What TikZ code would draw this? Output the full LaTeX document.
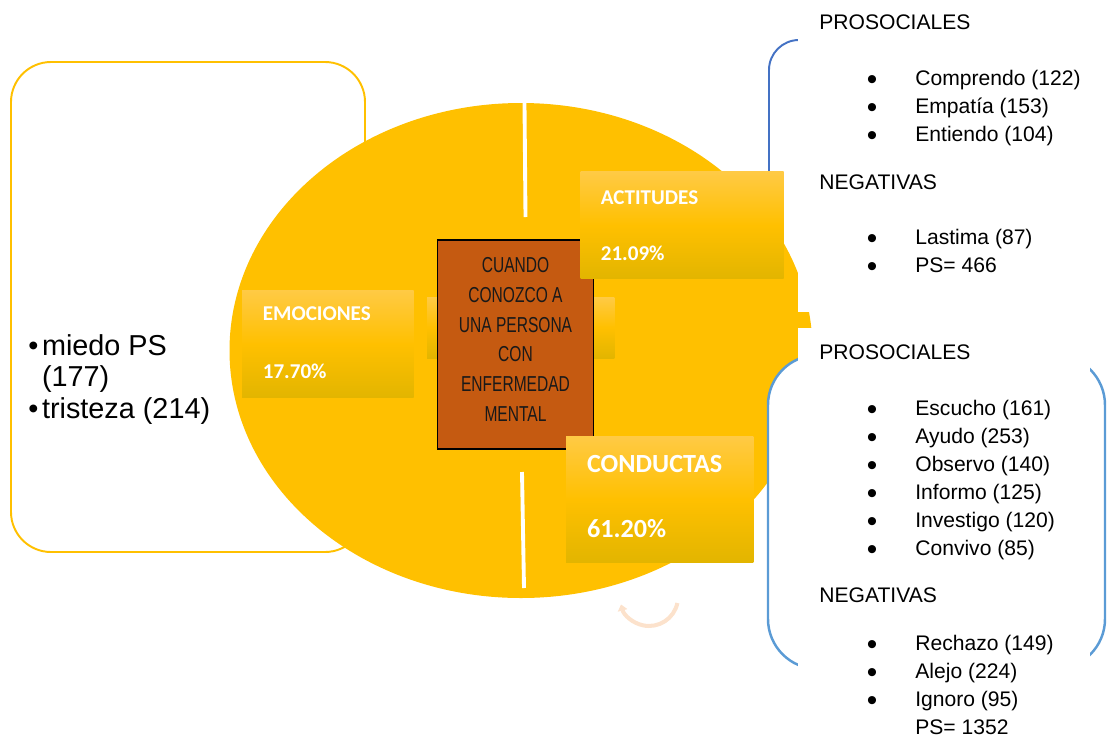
\documentclass[tikz,border=0pt]{standalone}
\usepackage{fontspec}
\setmainfont{Liberation Sans}
\newfontfamily\calfont{Carlito}
\newfontfamily\condfont[FakeStretch=0.72]{Liberation Sans}
\usetikzlibrary{arrows.meta}

\definecolor{oro}{HTML}{FFC000}
\definecolor{oroclaro}{HTML}{FFCA45}
\definecolor{orooscuro}{HTML}{E2B500}
\definecolor{naranja}{HTML}{C55A11}
\definecolor{azul}{HTML}{4472C4}
\definecolor{azulclaro}{HTML}{5B9BD5}
\definecolor{melocoton}{HTML}{FCE2CC}

\tikzset{
  categoria/.style={rectangle, inner sep=0pt, top color=oroclaro, bottom color=orooscuro, middle color=oro},
  titulo/.style={anchor=base west, inner sep=0pt, text=white, font=\calfont\bfseries\fontsize{12}{14}\selectfont},
  titulogrande/.style={titulo, font=\calfont\bfseries\fontsize{14.9}{17}\selectfont},
  encabezado/.style={anchor=base west, inner sep=0pt, font=\fontsize{12}{14}\selectfont},
  item/.style={encabezado},
  vineta/.style={anchor=base, inner sep=0pt, yshift=-0.08cm, font=\fontsize{17}{19}\selectfont},
  grande/.style={anchor=base west, inner sep=0pt, font=\fontsize{16.4}{19}\selectfont},
}

\begin{document}
\begin{tikzpicture}[x=0.02cm, y=-0.02cm]
\useasboundingbox (0,0) rectangle (1107,738);
% marco de emociones
\draw[oro, line width=1.1pt, rounded corners=0.8cm] (11,62) rectangle (365,552);
% corchete de actitudes
\draw[azul, line width=1.1pt, rounded corners=0.6cm] (769,40) rectangle (1000,300);
% circulo
\fill[oro] (521,350.5) ellipse [x radius=291.5, y radius=247.5];
\draw[white, line width=2.2pt] (524.5,103) -- (525.5,217);
\draw[white, line width=2.2pt] (522,472) -- (524,588);
% corchete de conductas
\draw[azulclaro, fill=white, line width=1.4pt, rounded corners=1cm] (768,355) rectangle (1105,669);
\fill[white] (798,0) rectangle (1107,312);
\fill[white] (798,328) rectangle (1090,738);
\draw[melocoton, line width=2.3pt, -{Triangle[length=3.5pt,width=5.5pt]}] (677.4,603) arc[start angle=12, end angle=165, radius=29];

% cajas
\node[categoria, minimum width=3.75cm, minimum height=1.22cm] (oculta) at (520.75,327.5) {};
\node[categoria, minimum width=3.434cm, minimum height=2.16cm] (emociones) at (327.85,344) {};
\node[fill=naranja, draw=black, line width=0.8pt, inner sep=0pt, minimum width=3.122cm, minimum height=4.18cm] (centro) at (515.45,344.5) {};
\node[font=\condfont\fontsize{12.3}{17}\selectfont, align=center, text=black!90, inner sep=0pt] (pregunta) at (515.5,339.4) {CUANDO\\CONOZCO A\\UNA PERSONA\\CON\\ENFERMEDAD\\MENTAL};
\node[categoria, minimum width=4.064cm, minimum height=2.146cm] (actitudes) at (682.1,225.35) {};
\node[categoria, minimum width=3.75cm, minimum height=2.534cm] (conductas) at (659.75,499.35) {};

\node[titulo] (emo) at (262.5,320.7) {EMOCIONES};
\node[titulo] (emopct) at (262.5,378) {17.70\%};
\node[titulo] (act) at (600.5,204) {ACTITUDES};
\node[titulo] (actpct) at (600.5,260.5) {21.09\%};
\node[titulogrande] (con) at (586.7,472.5) {CONDUCTAS};
\node[titulogrande] (conpct) at (586.7,537) {61.20\%};

% lista de emociones
\node[grande, anchor=base] (ve1) at (33.5,355) {•};
\node[grande] (miedo) at (41.7,355) {miedo PS};
\node[grande] (miedon) at (41.7,386.5) {(177)};
\node[grande, anchor=base] (ve2) at (33.5,418) {•};
\node[grande] (tristeza) at (41.7,418) {tristeza (214)};

% lista de actitudes
\node[encabezado] (prosoca) at (819,29) {PROSOCIALES};
\node[vineta] (va1) at (872,85) {•};
\node[item] (comprendo) at (915,85) {Comprendo (122)};
\node[vineta] (va2) at (872,113) {•};
\node[item] (empatia) at (915,113) {Empatía (153)};
\node[vineta] (va3) at (872,141) {•};
\node[item] (entiendo) at (915,141) {Entiendo (104)};
\node[encabezado] (negata) at (819,189) {NEGATIVAS};
\node[vineta] (va4) at (872,244) {•};
\node[item] (lastima) at (915,244) {Lastima (87)};
\node[vineta] (va5) at (872,272) {•};
\node[item] (psa) at (915,272) {PS= 466};

% lista de conductas
\node[encabezado] (prosocc) at (819,359) {PROSOCIALES};
\node[vineta] (vc1) at (872,415) {•};
\node[item] (escucho) at (915,415) {Escucho (161)};
\node[vineta] (vc2) at (872,443) {•};
\node[item] (ayudo) at (915,443) {Ayudo (253)};
\node[vineta] (vc3) at (872,471) {•};
\node[item] (observo) at (915,471) {Observo (140)};
\node[vineta] (vc4) at (872,499) {•};
\node[item] (informo) at (915,499) {Informo (125)};
\node[vineta] (vc5) at (872,527) {•};
\node[item] (investigo) at (915,527) {Investigo (120)};
\node[vineta] (vc6) at (872,555) {•};
\node[item] (convivo) at (915,555) {Convivo (85)};
\node[encabezado] (negatc) at (819,602) {NEGATIVAS};
\node[vineta] (vc7) at (872,650.5) {•};
\node[item] (rechazo) at (915,650.5) {Rechazo (149)};
\node[vineta] (vc8) at (872,678.5) {•};
\node[item] (alejo) at (915,678.5) {Alejo (224)};
\node[vineta] (vc9) at (872,706.5) {•};
\node[item] (ignoro) at (915,706.5) {Ignoro (95)};
\node[item] (psc) at (915,734) {PS= 1352};
\end{tikzpicture}
\end{document}
